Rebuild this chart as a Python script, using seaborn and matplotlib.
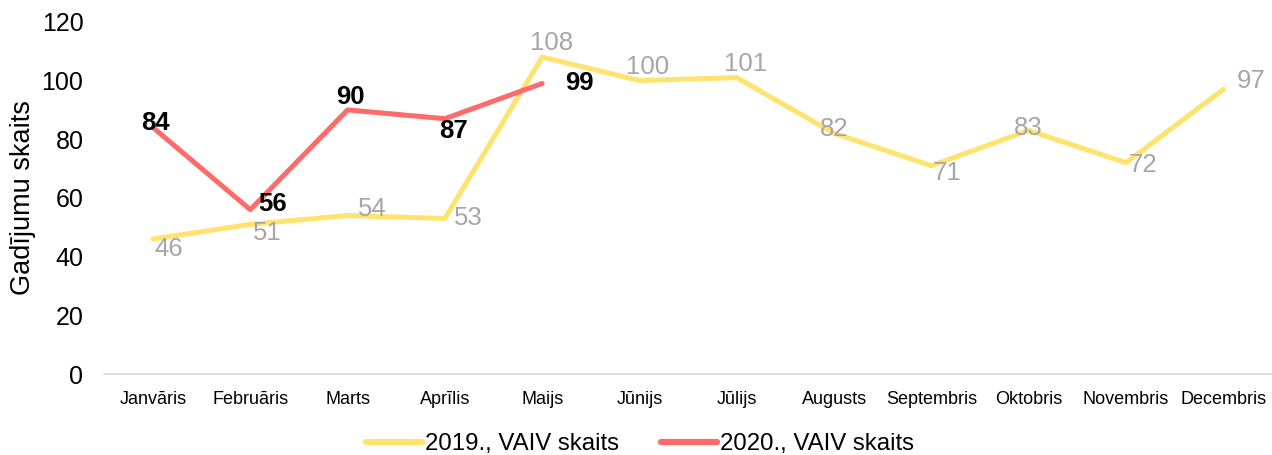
import matplotlib
matplotlib.use("Agg")
import matplotlib.pyplot as plt
import seaborn as sns
import pandas as pd

months = ["Janvāris", "Februāris", "Marts", "Aprīlis", "Maijs", "Jūnijs",
          "Jūlijs", "Augusts", "Septembris", "Oktobris", "Novembris", "Decembris"]
values_2019 = [46, 51, 54, 53, 108, 100, 101, 82, 71, 83, 72, 97]
values_2020 = [84, 56, 90, 87, 99]
series_names = ["2019., VAIV skaits", "2020., VAIV skaits"]
y_label = "Gadījumu skaits"

# label offsets in points (style, not data)
off_2019 = [(11, -7), (12, -6), (18, 5), (17, 0), (7, 10), (6, 10), (6, 10), (0, 3), (11, -5), (0, 2), (12, -2), (20, 6)]
off_2020 = [(2, 3), (16, 4), (2, 9), (6, -9), (27, 0)]

sns.set_theme(style="white")
plt.rcParams['font.family'] = ['Liberation Sans', 'DejaVu Sans']

df = pd.concat([
    pd.DataFrame({"month": months, "value": values_2019, "series": series_names[0]}),
    pd.DataFrame({"month": months[:len(values_2020)], "value": values_2020, "series": series_names[1]}),
], ignore_index=True)

colors = {series_names[0]: "#FFE36E", series_names[1]: "#FF6B6B"}

fig = plt.figure(figsize=(12.72, 4.55), dpi=100)
ax = fig.add_axes([0.082, 0.178, 0.918, 0.774])
sns.lineplot(data=df, x="month", y="value", hue="series", palette=colors,
             linewidth=3.6, ax=ax, sort=False, legend=True)

ax.set_xlim(-0.5, 11.5)
ax.set_ylim(0, 120)
ax.set_yticks(range(0, 121, 20))
ax.tick_params(axis="y", labelsize=18, colors="black", length=0, pad=15)
ax.tick_params(axis="x", labelsize=13, colors="black", length=0, pad=12)
ax.set_xlabel("")
ax.set_ylabel(y_label, fontsize=19.5, color="black", labelpad=4)
for s in ["top", "right", "left"]:
    ax.spines[s].set_visible(False)
ax.spines["bottom"].set_color("#D9D9D9")
ax.spines["bottom"].set_linewidth(1.2)

for i, v in enumerate(values_2019):
    ax.annotate(str(v), (i, v), xytext=off_2019[i], textcoords="offset points",
                ha="center", va="center", fontsize=18.5, color="#A6A6A6")
for i, v in enumerate(values_2020):
    ax.annotate(str(v), (i, v), xytext=off_2020[i], textcoords="offset points",
                ha="center", va="center", fontsize=18.5, color="black", fontweight="bold")

leg = ax.legend(loc="center", bbox_to_anchor=(0.459, -0.2), ncol=2, frameon=False,
                fontsize=17.3, handlelength=2.33, handletextpad=0.12, columnspacing=1.75,
                borderpad=0, borderaxespad=0)
for t in leg.get_texts():
    t.set_color("black")
for h in leg.get_lines():
    h.set_linewidth(4.5)

fig.savefig("out.png", dpi=100)
